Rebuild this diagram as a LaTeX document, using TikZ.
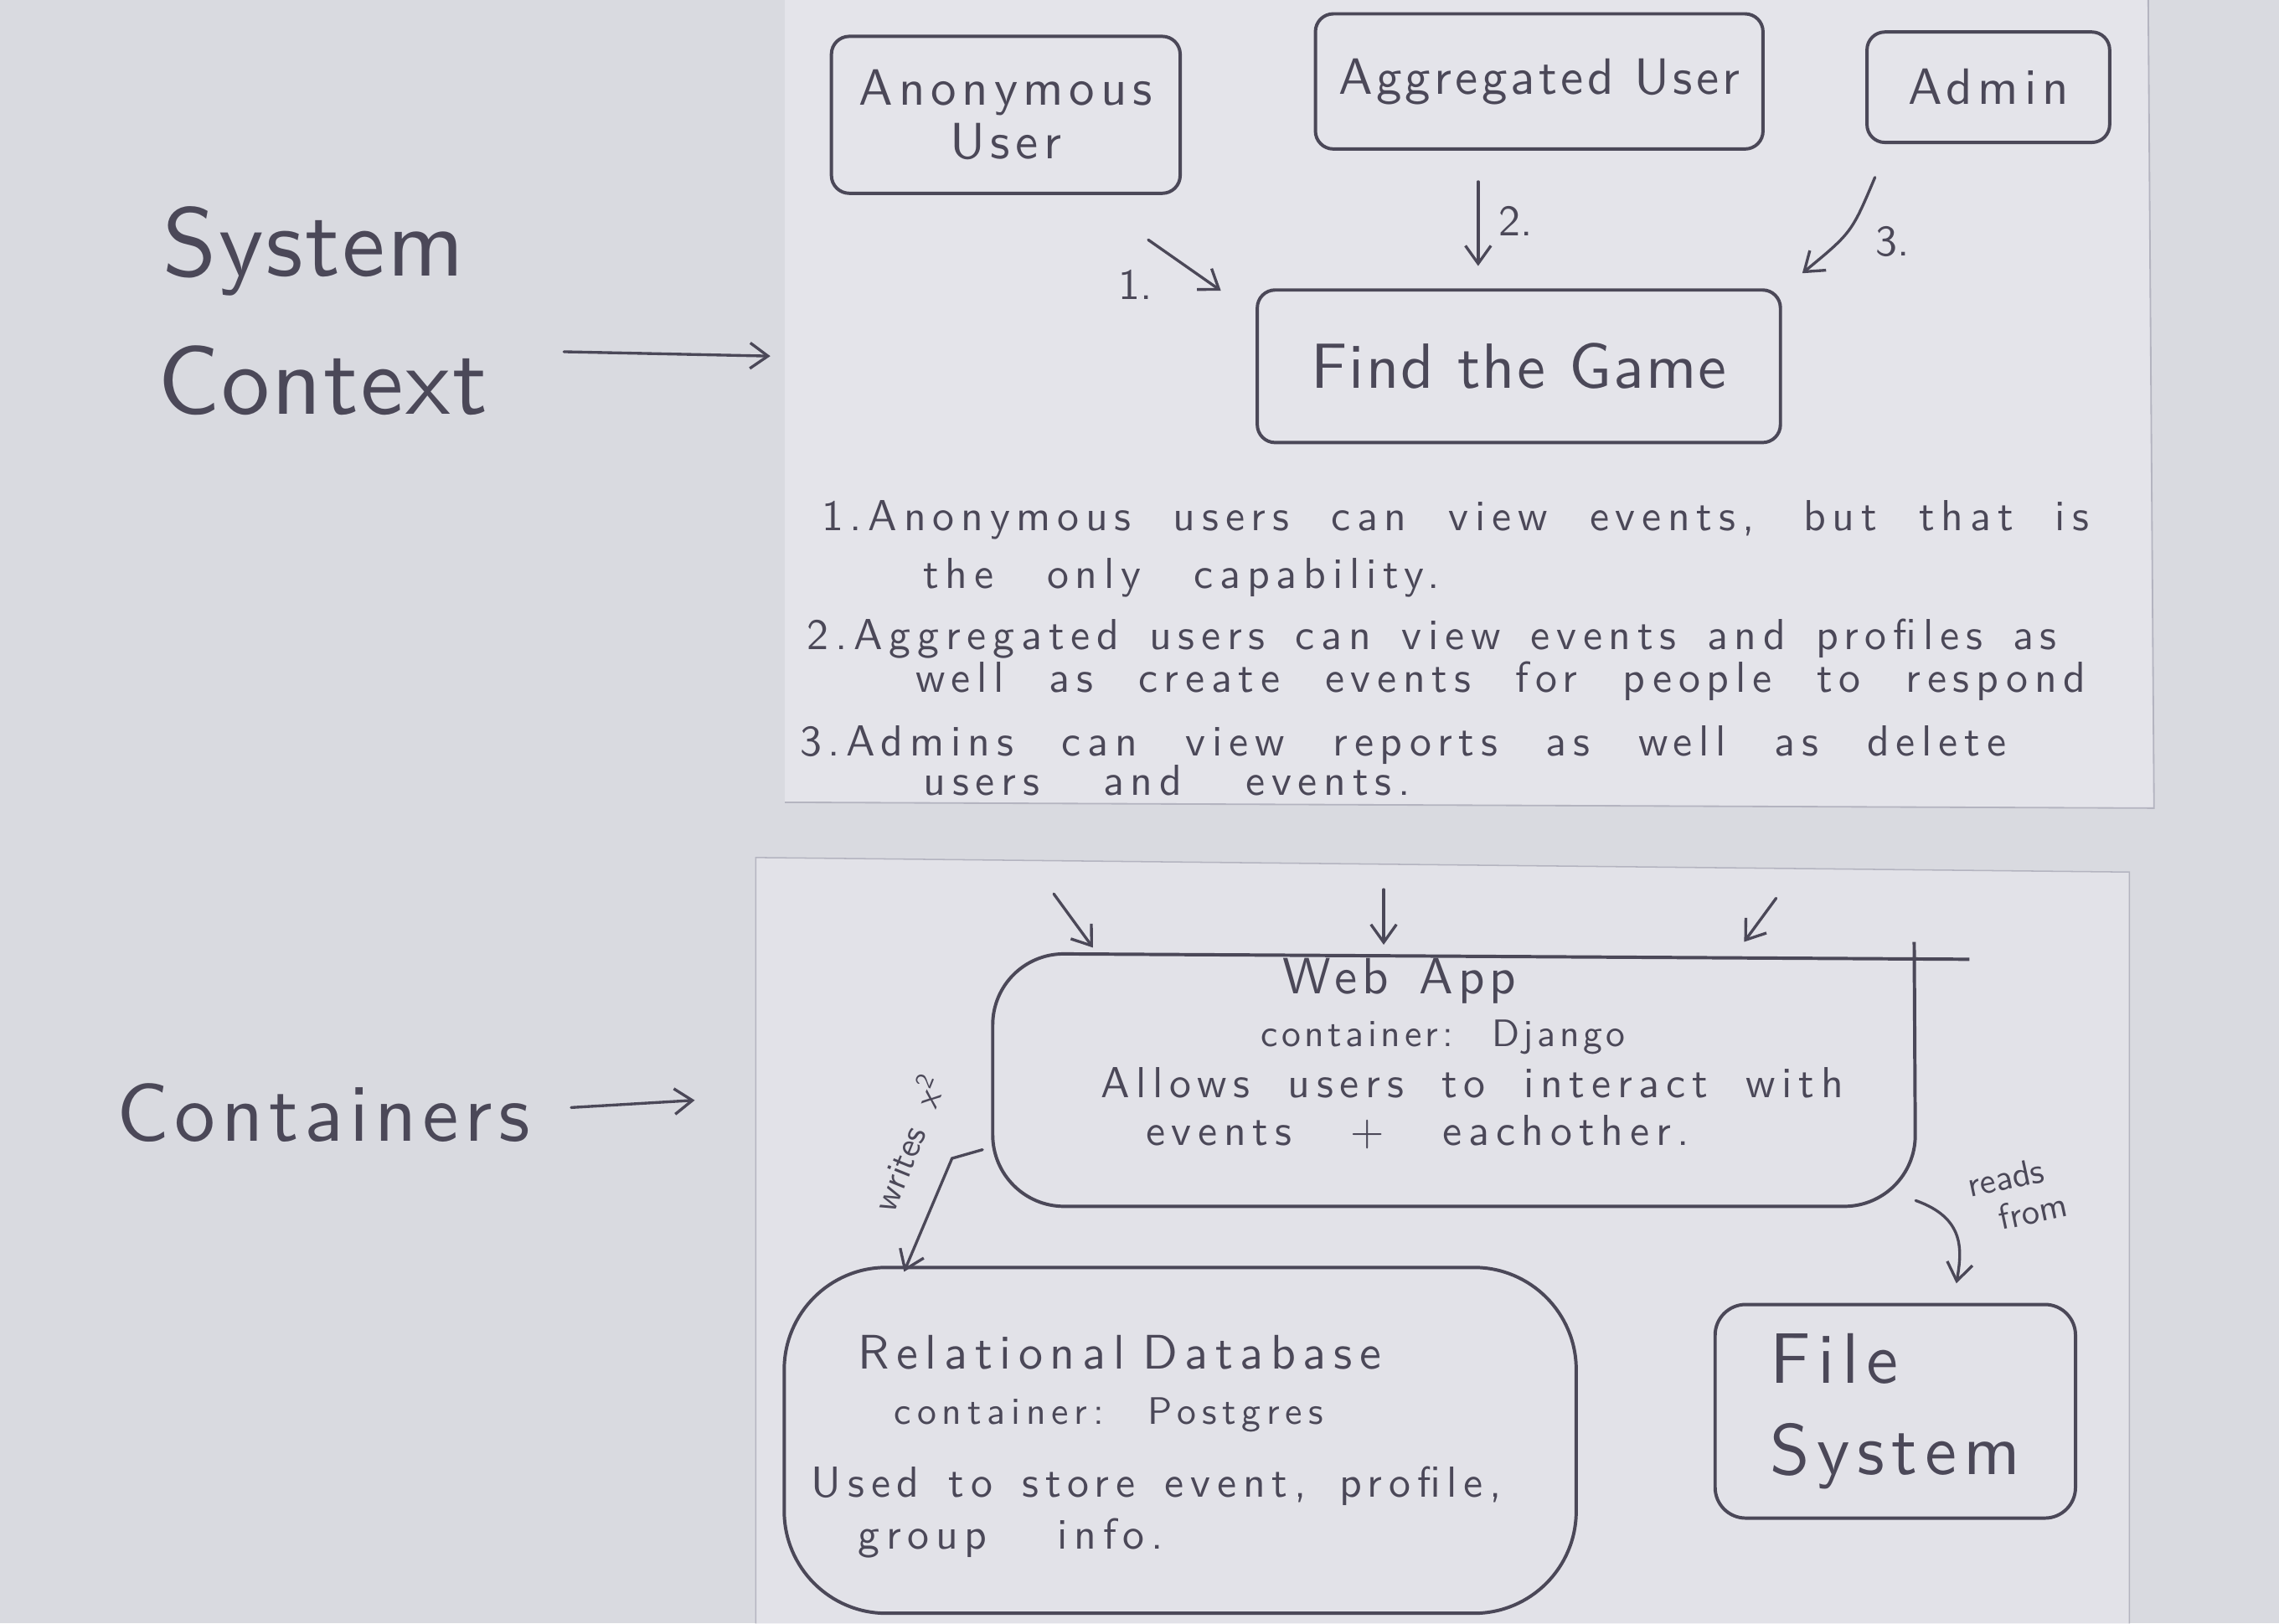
\documentclass[tikz,border=0pt]{standalone}
\usepackage{fontspec}
\setsansfont{lmsans10-regular.otf}
\usetikzlibrary{arrows.meta}
\definecolor{ink}{HTML}{4B4858}
\definecolor{paperA}{HTML}{E4E4EA}
\definecolor{paperB}{HTML}{E2E2E8}
\definecolor{bgc}{HTML}{D9DAE0}
\definecolor{edgec}{HTML}{B4B4C0}
\newcommand{\ls}[1]{\addfontfeature{LetterSpace=#1}}
\newcommand{\spread}[2]{\hbox to #1{\spaceskip=0.3em plus 1fil\relax #2\unskip}}
\begin{document}
\begin{tikzpicture}[x=0.02cm,y=-0.02cm,
  every node/.style={inner sep=0pt, text=ink},
  box/.style={draw=ink, line width=1.3pt, rounded corners=7pt},
  outline/.style={draw=ink, line width=1.3pt},
  arr/.style={draw=ink, line width=1.1pt, line cap=round, -{Straight Barb[length=7pt,width=10pt]}},
  fhuge/.style={font=\sffamily\fontsize{38}{40}\selectfont\ls{2}},
  fbig/.style={font=\sffamily\fontsize{32}{34}\selectfont\ls{7}},
  fbox/.style={font=\sffamily\fontsize{20}{21}\selectfont\ls{11}},
  fagg/.style={font=\sffamily\fontsize{20}{21}\selectfont\ls{7}},
  fgame/.style={font=\sffamily\fontsize{25}{27}\selectfont\ls{3}},
  flist/.style={font=\sffamily\fontsize{17}{18}\selectfont\ls{15}},
  fweb/.style={font=\sffamily\fontsize{20}{21}\selectfont\ls{10}},
  fdb/.style={font=\sffamily\fontsize{19}{20}\selectfont\ls{15}},
  fmid/.style={font=\sffamily\fontsize{17}{18}\selectfont\ls{15}},
  fsmall/.style={font=\sffamily\fontsize{15}{16}\selectfont\ls{10}},
  fsmallb/.style={font=\sffamily\fontsize{15}{16}\selectfont\ls{15}},
  fnum/.style={font=\sffamily\fontsize{17}{18}\selectfont},
  ftiny/.style={font=\sffamily\fontsize{14}{15}\selectfont},
  ffs/.style={font=\sffamily\fontsize{28}{34}\selectfont\ls{10}}
]
% background and sheets
\fill[bgc] (0,0) rectangle (1568,1117);
\useasboundingbox (0,0) rectangle (1568,1117);
\fill[paperA] (540,0) -- (1478,0) -- (1482,556) -- (540,552) -- cycle;
\draw[edgec, line width=0.6pt] (1478,0) -- (1482,556) -- (540,552);
\fill[paperB] (520,590) -- (1465,600) -- (1465,1117) -- (520,1117) -- cycle;
\draw[edgec, line width=0.5pt] (520,1117) -- (520,590) -- (1465,600) -- (1465,1117);

% left titles
\node[fhuge, anchor=base west] (sys1) at (112,190) {System};
\node[fhuge, anchor=base west] (sys2) at (108,285) {Context};
\node[fbig, anchor=base west] (cont) at (80,785) {Containers};
\coordinate (sa1) at (388,242);
\coordinate (sa2) at (530,245);
\draw[arr] (sa1) -- (sa2);
\coordinate (ca1) at (393,762);
\coordinate (ca2) at (478,757);
\draw[arr] (ca1) -- (ca2);

% system context boxes
\node[box, fbox, align=center, minimum width=4.8cm, minimum height=2.16cm] (anon) at (692,79) {Anonymous\\User};
\node[box, fagg, align=center, minimum width=6.16cm, minimum height=1.86cm] (agg) at (1059,56) {Aggregated User};
\node[box, fbox, align=center, minimum width=3.34cm, minimum height=1.52cm] (admin) at (1368,60) {Admin};
\node[box, fgame, align=center, minimum width=7.2cm, minimum height=2.1cm] (game) at (1045,252) {Find the Game};

\coordinate (a1s) at (790,165);
\coordinate (a1e) at (840,200);
\draw[arr] (a1s) -- (a1e);
\coordinate (a2s) at (1017,125);
\coordinate (a2e) at (1017,183);
\draw[arr] (a2s) -- (a2e);
\coordinate (a3s) at (1290,122);
\coordinate (a3e) at (1240,188);
\draw[arr] (a3s) .. controls (1274,160) .. (a3e);
\node[fnum] (n1) at (781,196) {1.};
\node[fnum] (n2) at (1043,152) {2.};
\node[fnum] (n3) at (1302,166) {3.};

% notes
\node[flist, anchor=base west] (l1) at (565,365) {\spread{17.44cm}{1.Anonymous users can view events, but that is}};
\node[flist, anchor=base west] (l1b) at (635,405) {\spread{7.1cm}{the only capability.}};
\node[flist, anchor=base west] (l2) at (555,447) {\spread{17.2cm}{2.Aggregated users can view events and profiles as}};
\node[flist, anchor=base west] (l2b) at (630,476) {\spread{16.1cm}{well as create events for people to respond}};
\node[flist, anchor=base west] (l3) at (550,520) {\spread{16.6cm}{3.Admins can view reports as well as delete}};
\node[flist, anchor=base west] (l3b) at (635,547) {\spread{6.7cm}{users and events.}};

% containers
\coordinate (b1s) at (725,615);
\coordinate (b1e) at (752,652);
\draw[arr] (b1s) -- (b1e);
\coordinate (b2s) at (952,612);
\coordinate (b2e) at (952,650);
\draw[arr] (b2s) -- (b2e);
\coordinate (b3s) at (1222,618);
\coordinate (b3e) at (1200,648);
\draw[arr] (b3s) -- (b3e);

\node[minimum width=12.7cm, minimum height=3.5cm] (web) at (1000,742) {};
\draw[outline, rounded corners=28pt] (1317,648) -- (1318,830) -- (683,830) -- (683,656) -- (1355,660);
\node[fweb, anchor=base west] (w1) at (882,684) {\spread{3.22cm}{Web App}};
\node[fsmall, anchor=base west] (w2) at (867,720) {\spread{5.02cm}{container: Django}};
\node[fmid, anchor=base west] (w3) at (757,755) {\spread{10.22cm}{Allows users to interact with}};
\node[fmid, anchor=base west] (w4) at (788,788) {\spread{7.48cm}{events + eachother.}};

\node[box, rounded corners=40pt, minimum width=10.9cm, minimum height=4.76cm] (db) at (812,991) {};
\node[fdb, anchor=base west] (d1) at (590,942) {\spread{7.2cm}{Relational Database}};
\node[fsmallb, anchor=base west] (d2) at (615,980) {\spread{5.9cm}{container: Postgres}};
\node[fmid, anchor=base west] (d3) at (558,1030) {\spread{9.5cm}{Used to store event, profile,}};
\node[fmid, anchor=base west] (d4) at (590,1066) {\spread{4.2cm}{group info.}};

\node[box, rounded corners=12pt, ffs, align=left, minimum width=4.96cm, minimum height=2.94cm] (fs) at (1304,971) {File\\[2pt]System};

% writes arrow
\coordinate (ws) at (676,791);
\coordinate (wm) at (655,797);
\coordinate (we) at (622,875);
\draw[arr] (ws) -- (wm) -- (we);
\node[ftiny, rotate=68] (wl) at (624,786) {writes\ \ x\textsuperscript{2}};

% reads from arrow
\coordinate (rs) at (1318,826);
\coordinate (re) at (1346,883);
\draw[arr] (rs) .. controls (1352,838) and (1350,860) .. (re);
\node[ftiny, align=left, rotate=12] (rl) at (1388,822) {reads\\\ \ from};
\end{tikzpicture}
\end{document}
